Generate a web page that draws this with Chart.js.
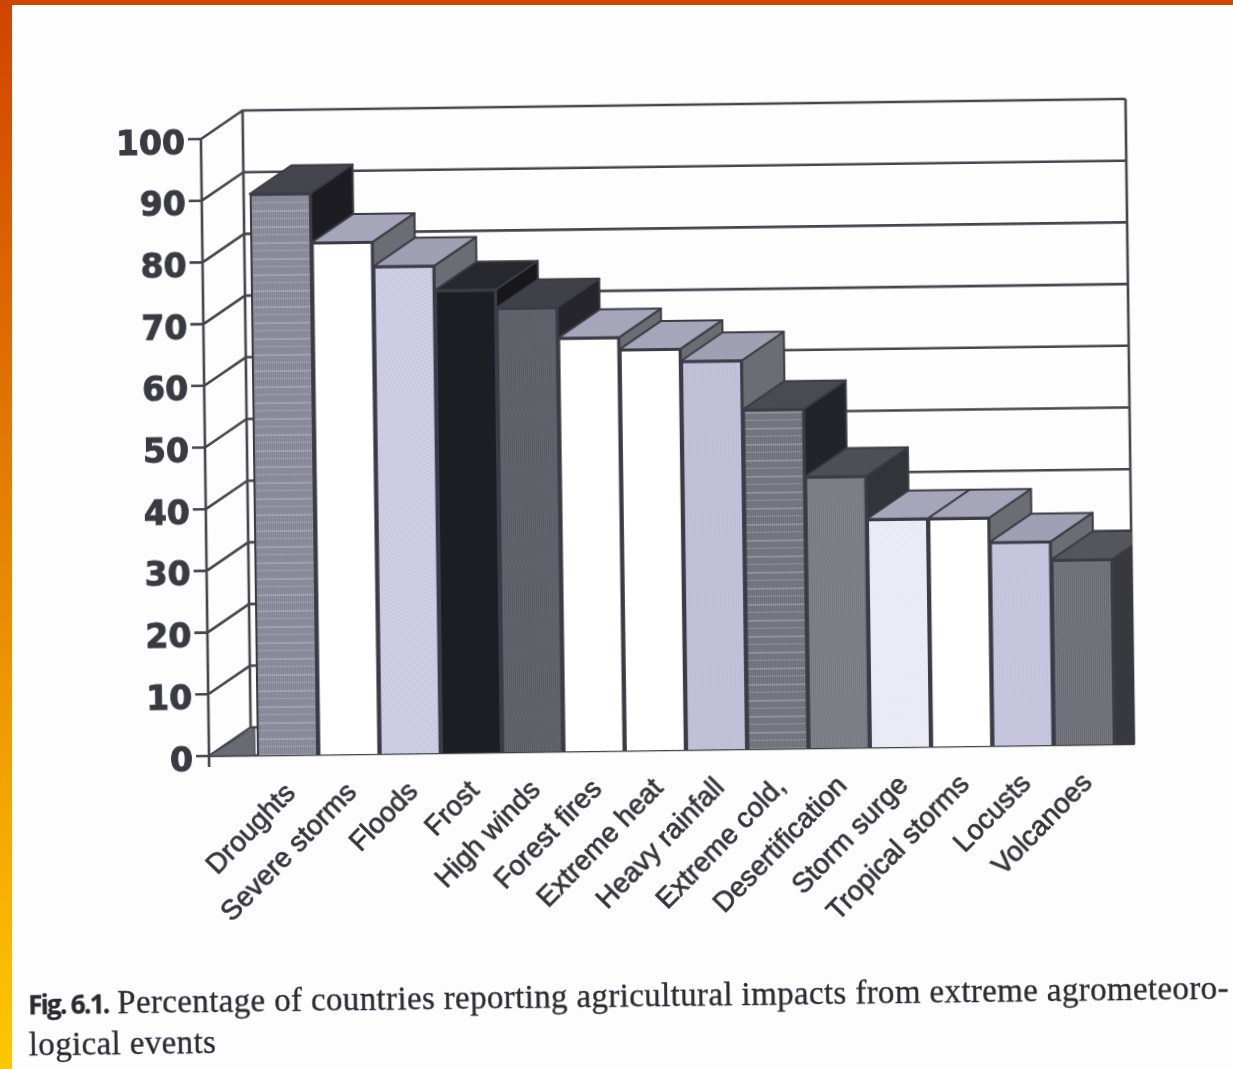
<!DOCTYPE html>
<html>
<head>
<meta charset="utf-8">
<title>Fig. 6.1</title>
<script src="https://cdn.jsdelivr.net/npm/chart.js@4"></script>
<style>
    html, body { margin: 0; padding: 0; width: 1233px; height: 1069px; overflow: hidden; background: #fdfdfd; }
    #page {
        position: absolute; left: 0; top: 0; width: 1233px; height: 1069px;
        transform-origin: 209px 756px; transform: rotate(-0.75deg);
    }
    #chart { position: absolute; left: 0; top: 0; }
    #caption {
        position: absolute; left: 25px; top: 981px; width: 1230px;
        font: 33px/41px "Liberation Serif", serif; letter-spacing: 0.36px; color: #2a2a30; white-space: nowrap;
        -webkit-text-stroke: 0.3px #2a2a30;
    }
    #caption b { font: bold 26px "Open Sans", sans-serif; letter-spacing: -1.7px; }
    #edge-top { position: absolute; left: 0; top: 0; width: 1233px; height: 5px; background: #d04800; }
    #edge-left {
        position: absolute; left: 0; top: 0; width: 12px; height: 1069px;
        background: linear-gradient(to bottom, #d04400, #e88a00 55%, #ffc800);
    }
</style>
</head>
<body>
<div id="page">
    <canvas id="chart" width="1233" height="1069"></canvas>
    <div id="caption"><b>Fig. 6.1.</b> Percentage of countries reporting agricultural impacts from extreme agrometeoro-<br>logical events</div>
</div>
<div id="edge-top"></div>
<div id="edge-left"></div>
<script>
const categories = ["Droughts", "Severe storms", "Floods", "Frost", "High winds", "Forest fires", "Extreme heat",
    "Heavy rainfall", "Extreme cold,", "Desertification", "Storm surge", "Tropical storms", "Locusts", "Volcanoes"];
const values = [91, 83, 79, 75, 72, 67, 65, 63, 55, 44, 37, 37, 33, 30];

// depth of the fake 3D box, in pixels
const depthX = 42;
const depthY = 28;
const wallRight = 1134;
const axisX = 209;
const lineColor = "#45454d";

// small repeating tiles for the printed shading
function tile(base, ink, kind) {
    const c = document.createElement("canvas");
    c.width = 8;
    c.height = kind === "stripes" ? 16 : 8;
    const g = c.getContext("2d");
    g.fillStyle = base;
    g.fillRect(0, 0, c.width, c.height);
    g.fillStyle = ink;
    if (kind === "speckle") {
        [[1, 0], [5, 1], [3, 2], [7, 3], [0, 4], [4, 5], [2, 6], [6, 7]].forEach(p => g.fillRect(p[0], p[1], 1, 1));
    } else {
        for (let i = 0; i < c.height; i++) {
            g.fillRect((i * 2) % 8, i, 1, 1);
            g.fillRect((i * 2 + 4) % 8, i, 1, 1);
        }
    }
    if (kind === "stripes") {
        g.fillStyle = "rgba(215,215,228,0.28)";
        g.fillRect(0, 3, 8, 2);
        g.fillRect(0, 11, 8, 1);
    }
    return g.createPattern(c, "repeat");
}

const white = "#ffffff";
const frontFills = [
    tile("#9090a2", "#777784", "stripes"), white, tile("#c9c9e2", "#dedeee", "speckle"), "#1d1d24",
    tile("#66666f", "#50505a", "hatch"), white, white, tile("#c4c4dc", "#b2b2c8", "hatch"),
    tile("#7a7a84", "#62626b", "stripes"), tile("#83838c", "#6a6a72", "hatch"),
    tile("#e9e9f5", "#f4f4fb", "speckle"), white, tile("#c9c9e2", "#b8b8cf", "hatch"), tile("#7a7a82", "#55555d", "hatch")
];
const topFills = ["#45454d", "#a6a6ba", "#a0a0b4", "#27272e", "#404048", "#a6a6ba", "#a6a6ba", "#a0a0b4",
    "#4a4a52", "#4e4e56", "#a6a6ba", "#a6a6ba", "#a0a0b4", "#55555d"];
const sideFills = ["#1c1c22", "#6c6c74", "#6c6c74", "#17171c", "#25252b", "#6c6c74", "#6c6c74", "#6c6c74",
    "#23232a", "#33333a", "#6c6c74", "#6c6c74", "#6c6c74", "#38383f"];

function fillFace(ctx, pts, fill) {
    ctx.beginPath();
    pts.forEach((p, i) => i ? ctx.lineTo(p[0], p[1]) : ctx.moveTo(p[0], p[1]));
    ctx.closePath();
    ctx.fillStyle = fill;
    ctx.fill();
    ctx.stroke();
}

// walls, floor corner and the front axis, behind the bars
const wallsPlugin = {
    id: "walls",
    beforeDatasetsDraw(chart) {
        const ctx = chart.ctx;
        const y = chart.scales.y;
        const y0 = y.getPixelForValue(0);
        const yTop = y.getPixelForValue(100);
        const backLeft = axisX + depthX;
        ctx.save();
        ctx.strokeStyle = lineColor;
        ctx.lineWidth = 2.6;
        ctx.beginPath();
        y.ticks.forEach(t => {
            const py = y.getPixelForValue(t.value);
            ctx.moveTo(axisX - 13, py);
            ctx.lineTo(axisX, py);
            ctx.lineTo(backLeft, py - depthY);
            ctx.lineTo(wallRight, py - depthY);
        });
        ctx.moveTo(axisX, yTop);
        ctx.lineTo(axisX, y0 + 11);
        ctx.moveTo(backLeft, yTop - depthY);
        ctx.lineTo(backLeft, y0 - depthY);
        ctx.moveTo(wallRight, yTop - depthY);
        ctx.lineTo(wallRight, y0);
        ctx.moveTo(axisX, y0);
        ctx.lineTo(wallRight, y0);
        ctx.stroke();

        ctx.lineWidth = 1;
        fillFace(ctx, [[axisX, y0], [backLeft + 4, y0 - depthY], [backLeft + 4, y0]], "#6a6a72");
        ctx.restore();
    }
};

// top and side faces, left to right so that each bar covers the one before
const depthPlugin = {
    id: "depth",
    beforeDatasetsDraw(chart) {
        const ctx = chart.ctx;
        const y0 = chart.scales.y.getPixelForValue(0);
        ctx.save();
        ctx.beginPath();
        ctx.rect(0, 0, wallRight + 1, chart.height);
        ctx.clip();
        ctx.strokeStyle = "#3c3c44";
        ctx.lineWidth = 2;
        ctx.lineJoin = "round";
        chart.getDatasetMeta(0).data.forEach((bar, i) => {
            const l = bar.x - bar.width / 2;
            const r = bar.x + bar.width / 2;
            fillFace(ctx, [[r, bar.y], [r + depthX, bar.y - depthY], [r + depthX, y0], [r, y0]], sideFills[i]);
            fillFace(ctx, [[l, bar.y], [l + depthX, bar.y - depthY], [r + depthX, bar.y - depthY], [r, bar.y]], topFills[i]);
        });
        ctx.restore();
    }
};

new Chart(document.getElementById("chart"), {
    type: "bar",
    data: {
        labels: categories,
        datasets: [{
            data: values,
            backgroundColor: frontFills,
            borderColor: "#3c3c46",
            borderWidth: 2.5,
            barPercentage: 1,
            categoryPercentage: 1
        }]
    },
    options: {
        responsive: false,
        animation: false,
        layout: { padding: { top: 139, right: 118, left: 0, bottom: 0 } },
        plugins: { legend: { display: false }, tooltip: { enabled: false }, title: { display: false } },
        scales: {
            x: {
                afterFit: s => { s.height = 313; },
                grid: { display: false },
                border: { display: false },
                ticks: {
                    autoSkip: false,
                    minRotation: 45,
                    maxRotation: 45,
                    padding: 14,
                    labelOffset: 3,
                    color: "#35353b",
                    textStrokeColor: "#35353b",
                    textStrokeWidth: 0.7,
                    font: { family: "'Liberation Sans', Arial, sans-serif", size: 28 }
                }
            },
            y: {
                min: 0,
                max: 100,
                afterFit: s => { s.width = 257; },
                grid: { display: false },
                border: { display: false },
                ticks: {
                    stepSize: 10,
                    padding: 56,
                    labelOffset: 6,
                    color: "#3a3a42",
                    textStrokeColor: "#3a3a42",
                    textStrokeWidth: 1,
                    font: { family: "'DejaVu Sans', sans-serif", size: 33, weight: "bold" }
                }
            }
        }
    },
    plugins: [wallsPlugin, depthPlugin]
});
</script>
</body>
</html>
